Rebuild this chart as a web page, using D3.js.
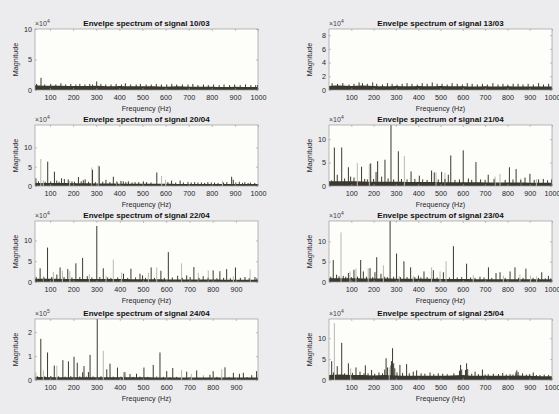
<!DOCTYPE html>
<html><head><meta charset="utf-8">
<script src="https://cdn.jsdelivr.net/npm/d3@7"></script>
<style>
html,body{margin:0;padding:0;background:#ecebee;}
svg{display:block;font-family:"Liberation Sans",Arial,Helvetica,sans-serif;}
</style></head><body>
<svg id="chart" width="559" height="414"></svg>
<script>
// ---------------- DATA ----------------
const titles = ["Envelpe spectrum of signal 10/03","Envelpe spectrum of signal 13/03",
  "Envelpe spectrum of signal 20/04","Envelpe spectrum of signal 21/04",
  "Envelpe spectrum of signal 22/04","Envelpe spectrum of signal 23/04",
  "Envelpe spectrum of signal 24/04","Envelpe spectrum of signal 25/04"];
const exponents = [4,4,4,4,4,4,5,4];
const yMaxes = [10, 8.9, 15.8, 13, 14.7, 15, 2.55, 14.6];
const yTicks = [[0,5,10],[0,2,4,6,8],[0,5,10],[0,5,10],[0,5,10],[0,5,10],[0,1,2],[0,5,10]];
const xDomains = [[35,1000],[0,1000],[35,1000],[0,1000],[35,995],[0,1000],[35,995],[0,1000]];
const xTicks = [100,200,300,400,500,600,700,800,900,1000];
const xLabel = "Frequency (Hz)";
const yLabel = "Magnitude";

// noise floor level every 50 Hz (0..1000)
const floor1003 = [0.8,0.75,0.7,0.7,0.65,0.65,0.7,0.6,0.65,0.6,0.6,0.6,0.55,0.6,0.55,0.55,0.55,0.5,0.55,0.5,0.5];
const floor1303 = [0.6,0.65,0.6,0.65,0.6,0.55,0.6,0.55,0.6,0.55,0.6,0.55,0.55,0.5,0.55,0.5,0.55,0.5,0.5,0.5,0.5];
const floor2004 = [0.8,0.8,0.8,0.75,0.7,0.7,0.65,0.65,0.6,0.6,0.6,0.6,0.6,0.55,0.55,0.55,0.55,0.55,0.5,0.5,0.5];
const floor2104 = [1.0,1.0,1.0,0.95,0.9,0.9,0.9,0.85,0.85,0.85,0.8,0.8,0.8,0.8,0.75,0.75,0.75,0.75,0.7,0.7,0.7];
const floor2204 = [0.8,0.8,0.8,0.75,0.75,0.7,0.7,0.7,0.7,0.65,0.65,0.65,0.6,0.6,0.6,0.6,0.6,0.55,0.55,0.55,0.55];
const floor2304 = [0.9,0.9,0.9,0.85,0.85,0.85,0.8,0.8,0.8,0.8,0.75,0.75,0.75,0.7,0.7,0.7,0.7,0.7,0.65,0.65,0.65];
const floor2404 = [0.13,0.13,0.12,0.12,0.12,0.12,0.11,0.11,0.11,0.11,0.11,0.1,0.1,0.1,0.1,0.1,0.1,0.1,0.1,0.1,0.1];
const floor2504 = [1.2,1.3,1.2,1.2,1.1,1.2,1.1,1.0,1.0,1.0,1.0,1.1,1.2,1.0,1.0,1.0,1.0,1.1,1.0,0.9,0.9];

// spectral lines [frequency Hz, magnitude]
const dark1003 = [[61,2.0],[302,1.4],[42,1.0],[77,0.9],[103,1.0],[125,0.9],[147,1.1],[168,0.9],[190,1.0],[212,0.9],[229,1.0],[251,0.9],[272,1.0],[284,0.9],[320,1.0],[341,0.9],[364,0.9],[386,1.0],[409,0.9],[426,1.1],[449,0.9],[473,0.9],[491,1.0],[516,0.9],[538,0.9],[560,1.0],[582,0.9],[605,0.9],[627,1.0],[648,0.9],[673,0.9],[697,0.9],[718,1.0],[740,0.8],[764,0.9],[785,0.8],[808,0.9],[832,0.8],[853,0.9],[877,0.8],[899,0.9],[923,0.8],[946,0.9],[969,0.8],[990,0.8],[998,0.8]];
const light1003 = [];
const dark1303 = [[14,1.0],[38,0.9],[62,1.0],[90,0.8],[112,0.9],[135,1.1],[150,1.0],[172,0.9],[196,1.1],[214,0.9],[240,0.8],[262,1.0],[283,0.9],[305,0.8],[328,0.9],[350,1.0],[372,0.9],[396,0.8],[418,1.0],[440,0.9],[463,1.1],[485,0.9],[507,0.9],[530,0.8],[552,1.0],[575,0.9],[598,0.8],[620,1.0],[642,0.9],[665,0.8],[688,0.9],[710,0.8],[735,1.0],[758,0.8],[780,0.9],[802,0.8],[826,0.9],[848,0.9],[870,0.8],[893,0.9],[916,0.8],[940,1.0],[962,0.8],[985,0.9]];
const light1303 = [];
const dark2004 = [[39,2.0],[90,6.3],[119,3.7],[129,1.4],[150,2.0],[162,1.8],[179,1.7],[223,2.3],[244,1.5],[252,1.7],[284,4.2],[313,5.1],[342,1.6],[374,2.4],[407,1.3],[417,1.2],[439,1.2],[468,1.0],[504,1.2],[562,3.5],[626,1.4],[663,1.4],[697,1.0],[726,1.0],[755,0.9],[783,1.0],[812,0.9],[886,2.4],[893,1.6],[919,1.1],[943,1.0],[967,0.9],[50,1.2],[79,1.1],[103,1.2],[139,1.1],[195,1.2],[206,1.1],[235,1.2],[267,1.1],[296,1.0],[328,1.1],[359,1.0],[390,1.1],[428,1.0],[455,0.9],[484,1.0],[518,1.0],[537,0.9],[610,1.0],[644,0.9],[677,0.9],[711,0.9],[740,0.9],[769,0.8],[798,0.9],[827,0.8],[851,0.9],[865,1.0],[904,0.9],[933,0.8],[957,0.8],[986,0.8]];
const light2004 = [[60,7.0],[71,1.5],[281,4.8],[309,5.3],[583,2.6],[600,1.6],[846,1.4],[185,1.3],[388,1.2]];
const dark2104 = [[12,1.2],[24,8.2],[37,2.4],[57,8.2],[87,4.0],[97,2.0],[112,1.8],[146,4.1],[187,4.8],[211,3.0],[218,5.3],[236,2.0],[251,5.6],[278,13],[311,7.4],[368,3.1],[405,2.2],[460,3.3],[472,2.9],[505,3.0],[535,2.4],[546,6.5],[602,7.6],[659,5.1],[714,2.4],[809,4.0],[839,3.6],[879,1.8],[901,2.6],[961,1.5],[998,1.4],[70,1.6],[160,1.5],[172,1.4],[200,1.5],[265,1.6],[290,1.4],[325,1.5],[350,1.4],[385,1.5],[420,1.4],[440,1.3],[490,1.4],[520,1.5],[565,1.3],[585,1.4],[625,1.6],[640,1.3],[680,1.4],[700,1.3],[740,1.5],[790,1.3],[825,1.4],[860,1.3],[920,1.3],[940,1.4],[980,1.2]];
const light2104 = [[127,4.9],[181,4.7],[338,6.4],[480,2.9],[520,2.8],[767,2.6],[745,2.0],[860,1.6],[930,1.5]];
const dark2204 = [[57,3.3],[89,8.3],[129,1.8],[143,3.5],[176,3.1],[211,4.5],[240,5.8],[260,1.4],[301,13.5],[329,3.3],[416,2.0],[448,3.2],[487,2.0],[498,1.6],[535,3.5],[577,2.7],[609,7.2],[649,1.5],[688,1.6],[703,1.2],[719,3.6],[759,1.4],[802,2.8],[831,2.6],[860,3.1],[898,3.5],[939,1.2],[982,1.2],[40,1.2],[74,1.1],[107,1.2],[160,1.2],[194,1.1],[228,1.2],[280,1.1],[314,1.2],[348,1.1],[362,1.0],[391,1.1],[434,1.0],[468,1.1],[511,1.0],[549,1.0],[592,1.0],[626,1.1],[669,1.0],[741,1.0],[780,1.0],[818,0.9],[847,1.0],[876,0.9],[919,1.0],[957,0.9],[990,0.9]];
const light2204 = [[71,1.4],[114,2.4],[153,2.7],[185,2.6],[269,1.9],[341,1.5],[372,5.4],[408,2.3],[523,2.2],[559,3.5],[666,4.5],[738,2.2],[781,2.8],[889,1.4],[961,3.0]];
const dark2304 = [[19,5.4],[34,1.8],[64,1.5],[87,2.2],[112,3.0],[142,5.4],[154,2.6],[184,3.4],[206,2.4],[214,6.1],[233,2.0],[274,15],[303,7.0],[336,5.1],[366,3.6],[401,1.6],[426,2.6],[468,2.9],[513,2.4],[558,8.8],[595,1.2],[617,4.5],[677,1.3],[715,3.6],[749,2.2],[767,2.4],[812,2.6],[834,3.6],[883,3.3],[954,2.4],[984,1.5],[8,1.3],[45,1.4],[75,1.3],[100,1.2],[128,1.3],[168,1.3],[196,1.2],[250,1.3],[262,1.2],[290,1.3],[320,1.2],[350,1.2],[385,1.2],[412,1.1],[440,1.2],[485,1.1],[540,1.1],[575,1.1],[635,1.1],[655,1.0],[695,1.1],[730,1.0],[790,1.0],[850,1.0],[870,1.0],[915,1.0],[940,1.0],[970,0.9],[995,0.9]];
const light2304 = [[54,12.2],[94,2.6],[121,3.3],[176,3.4],[244,4.1],[315,1.5],[378,1.5],[460,3.6],[498,2.6],[525,5.1],[647,1.7],[782,1.6],[856,1.8],[904,1.6],[931,1.4]];
const dark2404 = [[60,1.72],[89,1.15],[118,0.6],[155,0.83],[179,0.78],[203,0.97],[217,0.72],[240,0.32],[246,0.58],[265,0.33],[272,1.05],[303,2.55],[344,0.45],[358,0.68],[390,0.52],[422,0.33],[444,0.25],[472,0.26],[504,0.52],[544,0.63],[573,1.15],[602,0.37],[628,0.5],[688,0.35],[731,0.4],[788,0.22],[802,0.37],[853,0.53],[889,0.3],[915,0.26],[932,0.3],[968,0.2],[989,0.37],[45,0.16],[77,0.15],[103,0.17],[136,0.15],[165,0.14],[189,0.16],[228,0.15],[256,0.14],[285,0.15],[319,0.16],[372,0.14],[405,0.14],[458,0.13],[487,0.14],[520,0.13],[559,0.14],[588,0.13],[616,0.12],[645,0.13],[703,0.12],[760,0.12],[818,0.13],[871,0.12],[948,0.12]];
const light2404 = [[39,0.32],[71,0.4],[129,0.6],[329,1.22],[416,0.33],[666,0.42],[839,0.45],[760,0.2],[708,0.25]];
const dark2504 = [[12,4.5],[37,3.3],[57,8.9],[87,4.0],[121,3.0],[139,2.0],[157,1.6],[163,3.5],[191,2.4],[224,1.8],[256,5.2],[285,7.6],[318,3.6],[348,3.8],[378,2.0],[393,2.3],[413,1.6],[453,1.8],[490,1.6],[590,3.6],[617,4.0],[655,2.0],[688,2.5],[714,1.4],[737,1.5],[779,1.7],[812,1.4],[842,2.3],[868,1.6],[916,1.8],[946,1.2],[250,2.5],[262,3.0],[278,3.5],[280,4.5],[290,4.0],[295,2.8],[585,2.2],[595,2.5],[612,2.4],[622,2.6],[838,1.8],[848,1.9],[20,1.8],[70,1.6],[105,1.7],[175,1.6],[205,1.5],[240,1.6],[305,1.8],[330,1.7],[360,1.6],[430,1.5],[470,1.4],[510,1.5],[530,1.4],[560,1.6],[640,1.5],[670,1.4],[700,1.3],[760,1.4],[795,1.3],[825,1.3],[885,1.3],[900,1.4],[930,1.2],[965,1.3],[985,1.2]];
const light2504 = [[24,13.6],[97,2.8],[270,3.0]];

const floors = [floor1003,floor1303,floor2004,floor2104,floor2204,floor2304,floor2404,floor2504];
const darks = [dark1003,dark1303,dark2004,dark2104,dark2204,dark2304,dark2404,dark2504];
const lights = [light1003,light1303,light2004,light2104,light2204,light2304,light2404,light2504];

// ---------------- LAYOUT / STYLE ----------------
const colX = [35, 329];
const rowTop = [29, 125, 221, 319];
const plotW = 223, plotH = 61;
const darkColor = "#3b392e";
const lightColor = "#b9b9b3";
const axisColor = "#9a9a9a";
const textColor = "#262626";

const svg = d3.select("#chart");

titles.forEach((title, i) => {
  const col = i % 2, row = Math.floor(i / 2);
  const x0 = colX[col], y0 = rowTop[row];
  const g = svg.append("g").attr("transform", `translate(${x0},${y0})`);
  const x = d3.scaleLinear().domain(xDomains[i]).range([0, plotW]);
  const y = d3.scaleLinear().domain([0, yMaxes[i]]).range([plotH, 0]);

  g.append("rect").attr("width", plotW).attr("height", plotH).attr("fill", "#fdfdf9");
  const cid = "clip" + i;
  g.append("clipPath").attr("id", cid).append("rect").attr("width", plotW).attr("height", plotH);
  const dg = g.append("g").attr("clip-path", `url(#${cid})`);

  const floorPts = floors[i].map((v, k) => [k * 50, v]);
  dg.append("path").datum(floorPts)
    .attr("d", d3.area().x(d => x(d[0])).y0(y(0)).y1(d => y(d[1])).curve(d3.curveMonotoneX))
    .attr("fill", darkColor);

  dg.selectAll("line.lt").data(lights[i]).join("line").attr("class", "lt")
    .attr("x1", d => x(d[0])).attr("x2", d => x(d[0]))
    .attr("y1", y(0)).attr("y2", d => y(d[1]))
    .attr("stroke", lightColor).attr("stroke-width", 1);
  dg.selectAll("line.dk").data(darks[i]).join("line").attr("class", "dk")
    .attr("x1", d => x(d[0])).attr("x2", d => x(d[0]))
    .attr("y1", y(0)).attr("y2", d => y(d[1]))
    .attr("stroke", darkColor).attr("stroke-width", 1);

  const [xa, xb] = xDomains[i];
  const xt = xTicks.filter(t => t >= xa && t <= xb);
  const styleAxis = sel => {
    sel.select(".domain").remove();
    sel.selectAll(".tick line").attr("stroke", axisColor).attr("stroke-width", 0.6);
    sel.selectAll(".tick text").attr("fill", textColor).attr("font-size", 7.2)
      .attr("font-family", "Liberation Sans, Arial, sans-serif");
  };
  g.append("g").attr("transform", `translate(0,${plotH})`)
    .call(d3.axisBottom(x).tickValues(xt).tickFormat(d3.format("d")).tickSizeInner(-2).tickSizeOuter(0).tickPadding(5))
    .call(styleAxis);
  g.append("g")
    .call(d3.axisTop(x).tickValues(xt).tickFormat("").tickSizeInner(-2).tickSizeOuter(0))
    .call(styleAxis);
  g.append("g")
    .call(d3.axisLeft(y).tickValues(yTicks[i]).tickFormat(d3.format("d")).tickSizeInner(-2).tickSizeOuter(0).tickPadding(3))
    .call(styleAxis);
  g.append("g").attr("transform", `translate(${plotW},0)`)
    .call(d3.axisRight(y).tickValues(yTicks[i]).tickFormat("").tickSizeInner(-2).tickSizeOuter(0))
    .call(styleAxis);

  g.append("rect").attr("width", plotW).attr("height", plotH)
    .attr("fill", "none").attr("stroke", axisColor).attr("stroke-width", 0.7);

  g.append("text").attr("x", plotW / 2).attr("y", -3.5).attr("text-anchor", "middle")
    .attr("font-size", 8).attr("font-weight", "bold").attr("fill", "#111").text(title);

  g.append("text").attr("x", plotW / 2).attr("y", plotH + 21).attr("text-anchor", "middle")
    .attr("font-size", 7.2).attr("fill", textColor).text(xLabel);

  g.append("text").attr("transform", `translate(-17,${plotH / 2}) rotate(-90)`)
    .attr("text-anchor", "middle").attr("font-size", 7.2).attr("fill", textColor).text(yLabel);

  const ex = g.append("text").attr("x", 0).attr("y", -3).attr("font-size", 7).attr("fill", "#444");
  ex.append("tspan").text("×10");
  ex.append("tspan").attr("dy", -3).attr("font-size", 5).text(exponents[i]);
});
</script>
</body></html>
